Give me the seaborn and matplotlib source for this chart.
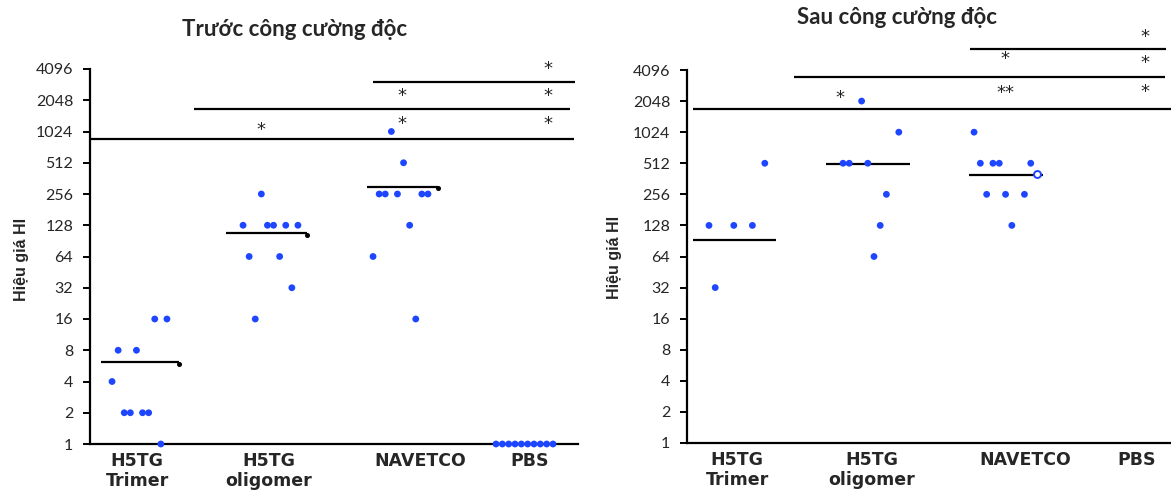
import numpy as np
import pandas as pd
import matplotlib
matplotlib.use("Agg")
import matplotlib.pyplot as plt
import seaborn as sns

# ---------------- data ----------------
groups = ["H5TG\nTrimer", "H5TG\noligomer", "NAVETCO", "PBS"]
title_before = "Trước công cường độc"
title_after = "Sau công cường độc"
ylabel = "Hiệu giá HI"
ytick_values = [1, 2, 4, 8, 16, 32, 64, 128, 256, 512, 1024, 2048, 4096]

nan = np.nan
before_trimer = [4, 8, 2, 2, 8, 2, 2, 16, 1, 16]
before_oligomer = [128, 64, 16, 256, 128, 128, 64, 128, 32, 128]
before_navetco = [64, 256, 256, 1024, 256, 512, 128, 16, 256, 256]
before_pbs = [1, 1, 1, 1, 1, 1, 1, 1, 1, 1]
after_trimer = [128, 32, nan, nan, 128, nan, nan, 128, nan, 512]
after_oligomer = [512, 512, nan, 2048, 512, 64, 128, 256, nan, 1024]
after_navetco = [1024, 512, 256, 512, 512, 256, 128, nan, 256, 512]
after_pbs = [nan] * 10
before_means = [6.1, 107, 302, nan]
after_means = [93, 506, 397, nan]
sig_before = ["*", "*", "*", "*", "*", "*"]
sig_after = ["*", "**", "*", "*", "*", "*"]

# ---------------- layout ----------------
W, H = 1171, 495
sns.set_theme(style="white")
plt.rcParams['font.family'] = ['Lato', 'DejaVu Sans']

fig = plt.figure(figsize=(W / 100, H / 100), dpi=100)


def axes_px(x0, x1, ytop, ybot):
    return fig.add_axes([x0 / W, 1 - ybot / H, (x1 - x0) / W, (ybot - ytop) / H])


axL = axes_px(90, 578, 69, 444)
axR = axes_px(687, 1171, 70, 443)

panels = [
    dict(ax=axL, data=[before_trimer, before_oligomer, before_navetco, before_pbs],
         means=before_means, xmax=488,
         centers=[49.5, 180.5, 310.5, 434.5], spacing=[6.1, 6.1, 6.1, 6.33],
         label_x=[47, 179, 330, 440],
         mean_ext=[(11, 89), (136, 217), (277, 348), None],
         lines=[(0, 484, 9.76), (104, 480, 10.72), (283, 485, 11.57)],
         stars=[(170.5, 10.05), (312, 11.15), (312, 10.24),
                (458, 12.0), (458, 11.14), (458, 10.24)],
         star_text=sig_before, end_marker="dot"),
    dict(ax=axR, data=[after_trimer, after_oligomer, after_navetco, after_pbs],
         means=after_means, xmax=484,
         centers=[49.9, 183.9, 315.4, 434.0], spacing=[6.2, 6.2, 6.3, 6.3],
         label_x=[50, 185, 338, 450],
         mean_ext=[(6, 89), (139, 223), (282, 356), None],
         lines=[(6, 500, 10.75), (107, 478, 11.76), (283, 479, 12.67)],
         stars=[(153, 11.10), (318, 11.25), (318, 12.35),
                (458, 13.05), (458, 12.22), (458, 11.29)],
         star_text=sig_after, end_marker="ring"),
]

blue = "#1e46ff"

for p in panels:
    ax = p["ax"]
    rows = []
    for gi, vals in enumerate(p["data"]):
        for si, v in enumerate(vals):
            if not np.isnan(v):
                rows.append(dict(x=p["centers"][gi] + (si - 4.5) * p["spacing"][gi], y=v))
    df = pd.DataFrame(rows)
    ax.set_yscale("log", base=2)
    sns.scatterplot(data=df, x="x", y="y", ax=ax, color=blue, s=24,
                    edgecolor="none", clip_on=False, zorder=5, legend=False)
    ax.set_xlim(0, p["xmax"])
    ax.set_ylim(1, 4096)

    # mean lines
    for gi, m in enumerate(p["means"]):
        if np.isnan(m):
            continue
        x0, x1 = p["mean_ext"][gi]
        ax.hlines(m, x0, x1, color="black", lw=1.6, zorder=4)
        if p["end_marker"] == "dot":
            ax.plot([x1], [m * 0.97], marker="o", ms=2.6, color="black", zorder=4)
        elif gi == 2:
            ax.plot([x1 - 6], [m * 1.02], marker="o", ms=5, mfc="white",
                    mec=blue, mew=1.4, zorder=6, clip_on=False)

    # significance lines / stars
    for x0, x1, ly in p["lines"]:
        ax.hlines(2 ** ly, x0, x1, color="black", lw=1.6, clip_on=False, zorder=3)
    for (sx, sy), t in zip(p["stars"], p["star_text"]):
        ax.text(sx, 2 ** sy, t, ha="center", va="center", fontsize=13,
                family=["DejaVu Sans"], color="#222222", clip_on=False)

    # axes styling
    for side in ["top", "right"]:
        ax.spines[side].set_visible(False)
    for side in ["left", "bottom"]:
        ax.spines[side].set_color("black")
        ax.spines[side].set_linewidth(1.6)
    ax.minorticks_off()
    ax.set_yticks(ytick_values)
    ax.set_yticklabels([str(v) for v in ytick_values], fontsize=11.5,
                       family=["Lato", "DejaVu Sans"])
    ax.tick_params(axis="y", length=5, width=1.4, color="black", pad=7,
                   left=True, direction="out")
    ax.set_xticks(p["label_x"])
    ax.set_xticklabels(groups, fontsize=12.5, fontweight="bold",
                       family=["DejaVu Sans"], linespacing=1.15)
    ax.tick_params(axis="x", length=0, pad=6)
    ax.set_xlabel("")
    ax.set_ylabel("")

fig.text(295 / W, 1 - 29 / H, title_before, ha="center", va="center",
         fontsize=16, fontweight="bold", family=["Lato", "DejaVu Sans"])
fig.text(897 / W, 1 - 17 / H, title_after, ha="center", va="center",
         fontsize=16, fontweight="bold", family=["Lato", "DejaVu Sans"])
fig.text(22 / W, 1 - 259 / H, ylabel, rotation=90, ha="center", va="center",
         fontsize=11.5, fontweight="bold", family=["Liberation Sans", "DejaVu Sans"])
fig.text(614 / W, 1 - 257 / H, ylabel, rotation=90, ha="center", va="center",
         fontsize=11.5, fontweight="bold", family=["Liberation Sans", "DejaVu Sans"])

fig.savefig("out.png", dpi=100)
